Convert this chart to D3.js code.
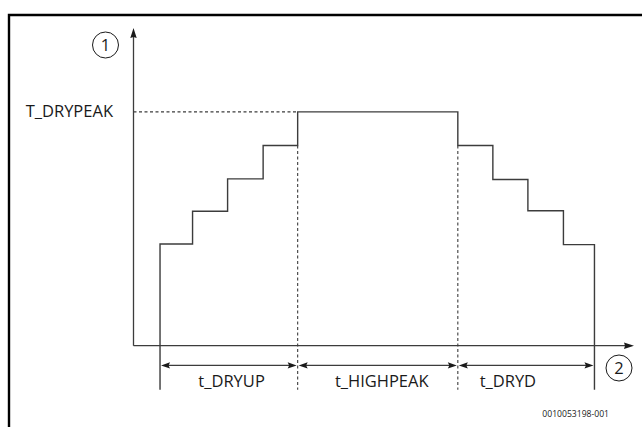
<!DOCTYPE html>
<html><head><meta charset="utf-8">
<script src="https://cdn.jsdelivr.net/npm/d3@7"></script>
<style>
html,body{margin:0;padding:0;background:#fff;}
svg{display:block;}
text{font-family:"Open Sans","Noto Sans",sans-serif;fill:#1a1a1a;}
</style></head>
<body><svg id="c" width="642" height="427"></svg>
<script>
// ---- data ----
const phaseNames = ["t_DRYUP", "t_HIGHPEAK", "t_DRYD"];
const phaseBounds = [5.3, 32.8, 64.8, 92.1];          // time at phase boundaries
const labelTimes = [19.6, 49.6, 74.8];                // label positions (time)
const stepTimes = [5.3, 11.8, 18.8, 25.9, 32.8, 64.8, 71.8, 78.8, 85.9];
const stepLevels = [32, 42.3, 52.5, 63, 73.6, 63, 52.3, 42.5, 31.8];
const peakLevel = 73.6;
const peakLabel = "T_DRYPEAK";
const axisMarks = ["1", "2"];
const docRef = "0010053198-001";

// ---- layout ----
const svg = d3.select("#c");
const x = d3.scaleLinear().domain([0, 100]).range([133.5, 634]);
const y = d3.scaleLinear().domain([0, 100]).range([345.7, 28]);
const ext = -13.9, dimLevel = -6.2;
const lineCol = "#3c3c3c";

// frame
svg.append("path").attr("d", "M9,427V15H642").attr("fill", "none")
  .attr("stroke", "#000").attr("stroke-width", 2.4);

// arrow head helper
function head(px, py, angle, len, half, notch) {
  const a = angle * Math.PI / 180;
  const c = Math.cos(a), s = Math.sin(a);
  const pts = [[0,0], [-len, -half], [-len + notch, 0], [-len, half]]
    .map(([u,v]) => [px + u*c - v*s, py + u*s + v*c]);
  svg.append("path").attr("d", "M" + pts.map(p => p.join(",")).join("L") + "Z")
    .attr("fill", "#1a1a1a");
}

// axes
svg.append("line").attr("x1", x(0)).attr("x2", x(0)).attr("y1", y(0)).attr("y2", y(100) + 6)
  .attr("stroke", lineCol).attr("stroke-width", 1.3);
head(x(0), y(100), -90, 10, 3.2, 1);
svg.append("line").attr("x1", x(0)).attr("x2", x(100) - 6).attr("y1", y(0)).attr("y2", y(0))
  .attr("stroke", lineCol).attr("stroke-width", 1.3);
head(x(100), y(0), 0, 10, 3.2, 1);

// dashed peak reference
svg.append("line").attr("x1", x(0)).attr("x2", x(phaseBounds[1])).attr("y1", y(peakLevel)).attr("y2", y(peakLevel))
  .attr("stroke", lineCol).attr("stroke-width", 1.1).attr("stroke-dasharray", "3,2.5");
// dashed phase dividers
[phaseBounds[1], phaseBounds[2]].forEach(t => {
  svg.append("line").attr("x1", x(t)).attr("x2", x(t)).attr("y1", y(stepLevels[3])).attr("y2", y(ext))
    .attr("stroke", lineCol).attr("stroke-width", 1.1).attr("stroke-dasharray", "3,2.5");
});

// step profile
const pts = [[phaseBounds[0], ext]].concat(stepTimes.map((t, i) => [t, stepLevels[i]]))
  .concat([[phaseBounds[3], ext]]);
svg.append("path").datum(pts)
  .attr("d", d3.line().x(d => x(d[0])).y(d => y(d[1])).curve(d3.curveStepAfter))
  .attr("fill", "none").attr("stroke", lineCol).attr("stroke-width", 1.4);

// dimension arrows
for (let i = 0; i < 3; i++) {
  const a = x(phaseBounds[i]) + 1, b = x(phaseBounds[i + 1]) - 1;
  svg.append("line").attr("x1", a + 4).attr("x2", b - 4).attr("y1", y(dimLevel)).attr("y2", y(dimLevel))
    .attr("stroke", lineCol).attr("stroke-width", 1.2);
  head(a, y(dimLevel), 180, 9, 3.2, 1.5);
  head(b, y(dimLevel), 0, 9, 3.2, 1.5);
  svg.append("text").attr("x", x(labelTimes[i])).attr("y", 387).attr("text-anchor", "middle")
    .attr("font-size", 16.5).text(phaseNames[i]);
}

// peak label
svg.append("text").attr("x", 113).attr("y", y(peakLevel) + 5.5).attr("text-anchor", "end")
  .attr("font-size", 16.5).text(peakLabel);

// circled markers
[[105.5, 45], [619, 368]].forEach((p, i) => {
  svg.append("circle").attr("cx", p[0]).attr("cy", p[1]).attr("r", 13)
    .attr("fill", "none").attr("stroke", "#1a1a1a").attr("stroke-width", 1);
  svg.append("text").attr("x", p[0]).attr("y", p[1] + 6).attr("text-anchor", "middle")
    .attr("font-size", 16.5).text(axisMarks[i]);
});

// document reference
svg.append("text").attr("x", 609).attr("y", 417).attr("text-anchor", "end")
  .attr("font-size", 8.6).attr("fill", "#333").text(docRef);
</script></body></html>
